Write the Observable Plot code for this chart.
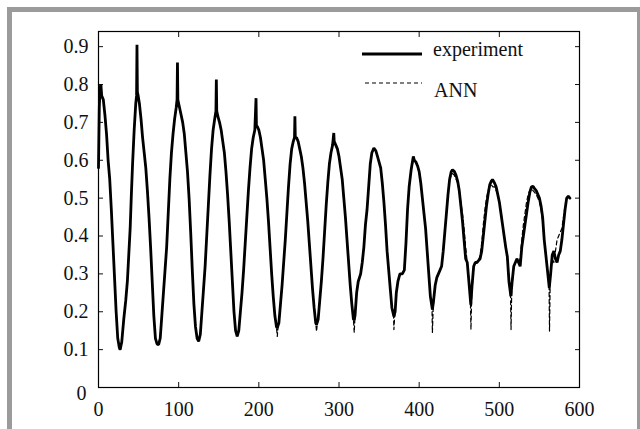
<!DOCTYPE html>
<html>
<head>
<meta charset="utf-8">
<script src="https://cdn.jsdelivr.net/npm/d3@7"></script>
<script src="https://cdn.jsdelivr.net/npm/@observablehq/plot@0.6"></script>
<style>
  html, body { margin: 0; padding: 0; background: #fff; }
  #wrap { position: relative; width: 640px; height: 429px; overflow: hidden; background: #fff; font-family: "Liberation Serif", "DejaVu Serif", serif; }
  #frame { position: absolute; left: 7px; top: 7px; width: 625px; height: 440px; border-left: 5px solid #9b9b9b; border-top: 5px solid #9b9b9b; border-right: 3px solid #9b9b9b; box-sizing: content-box; }
  #chart { position: absolute; left: 0; top: 0; }
  #chart svg, #chart svg text { font-family: "Liberation Serif", "DejaVu Serif", serif !important; font-size: 20px; }
  .leg { position: absolute; font-size: 20px; line-height: 20px; color: #111; white-space: nowrap; }
  #legsvg { position: absolute; left: 360px; top: 44px; }
</style>
</head>
<body>
<div id="wrap">
  <div id="frame"></div>
  <div id="chart"></div>
  <svg id="legsvg" width="66" height="50">
    <line x1="2" x2="62" y1="10" y2="10" stroke="#000" stroke-width="2.8"></line>
    <line x1="5" x2="62" y1="39" y2="39" stroke="#000" stroke-width="1.2" stroke-dasharray="4,3"></line>
  </svg>
  <div class="leg" id="legExp" style="left:433px; top:39px;"></div>
  <div class="leg" id="legAnn" style="left:434px; top:80px;"></div>
</div>
<script>
// ---- data ----
const seriesNames = ["experiment", "ANN"];
const xTicks = [0, 100, 200, 300, 400, 500, 600];
const yTicks = [0.1, 0.2, 0.3, 0.4, 0.5, 0.6, 0.7, 0.8, 0.9];
const yZeroLabel = ["0"];

const expX = [0,1,2,3,4,6,8,10,12,14,16,18,20,22,24,26,27,29,31.5,34,36,38,39.5,41,42.5,44.5,46.5,47.5,48,48.5,49.5,
  51,53,55,57,59,61,63,65,67,69,71,73,75,77,79,81,83,85,87,89,91,93,95,97,98,98.5,99,
  101,103,105,107,109,111,113,115,117,119,121,123,125,127,129,131,133,135,137,139,141,143,145,146.5,147,147.5,149,
  151,153,155,157,159,161,163,165,167,169,171,173,175,177,179,181,183,185,187,189,191,193,195,196.5,197,198,
  200,202,204,206,208,210,212,214,216,218,220,222,223,225,227,229,231,233,235,237,239,241,243,244.5,245,245.5,247,
  249,251,253,255,257,259,261,263,265,267,269,271,272,274,276,278,280,282,284,286,288,290,292,293.5,294,296,
  298,300,302,304,306,308,310,312,314,316,318,319,320,322,324,327,329,331,333,335,337,339,341,343.5,
  346,348,350,352,354,356,358,360,362,364,366,368.5,370,371.5,373.5,376,379,381.5,383.5,385.5,387.5,390,392.7,
  394,396,398,400,402,404,406,408,410,412,414,416.5,418,420,422,424,426,428,430,432,434,436,438,440,441.5,
  444,446,448,450,452,454,456,458,460,462,464.4,466,468,470,472,474,476,478,480,482,484,486,488,490,491.5,
  494,496,498,500,502,504,506,508,510,512,514.4,516,518,520,522,524,526,528,530,532,534,536,538,540,542,
  544,546,548,550,552,554,556,558,560,562.3,564,566,568,570,572,574,576,578,580,582,584,586,588];
const expY = [0.58,0.74,0.79,0.80,0.77,0.76,0.72,0.67,0.60,0.55,0.47,0.38,0.29,0.20,0.13,0.105,0.10,0.12,0.18,0.23,0.28,0.36,0.42,0.51,0.59,0.68,0.75,0.77,0.905,0.78,0.77,
  0.75,0.71,0.66,0.62,0.58,0.52,0.45,0.37,0.28,0.19,0.13,0.115,0.113,0.13,0.19,0.25,0.31,0.37,0.46,0.55,0.62,0.67,0.71,0.74,0.76,0.858,0.76,
  0.74,0.72,0.70,0.67,0.62,0.57,0.50,0.41,0.31,0.22,0.16,0.13,0.122,0.14,0.20,0.26,0.32,0.40,0.48,0.56,0.63,0.68,0.71,0.73,0.813,0.73,0.715,
  0.70,0.68,0.65,0.62,0.57,0.51,0.44,0.36,0.28,0.20,0.15,0.135,0.15,0.20,0.25,0.31,0.38,0.45,0.52,0.58,0.63,0.66,0.68,0.764,0.69,0.69,
  0.68,0.66,0.63,0.60,0.55,0.50,0.44,0.37,0.30,0.24,0.19,0.16,0.158,0.17,0.22,0.27,0.33,0.39,0.46,0.53,0.59,0.63,0.65,0.66,0.716,0.66,0.66,
  0.65,0.63,0.61,0.58,0.54,0.49,0.44,0.38,0.32,0.26,0.21,0.17,0.166,0.18,0.23,0.28,0.34,0.41,0.48,0.54,0.59,0.62,0.64,0.672,0.65,0.64,
  0.63,0.61,0.58,0.55,0.50,0.45,0.39,0.33,0.27,0.22,0.18,0.179,0.19,0.25,0.28,0.30,0.33,0.37,0.43,0.47,0.53,0.59,0.62,0.632,
  0.625,0.61,0.595,0.58,0.54,0.49,0.43,0.36,0.31,0.26,0.21,0.188,0.20,0.25,0.28,0.30,0.30,0.31,0.38,0.47,0.53,0.575,0.61,
  0.60,0.595,0.585,0.57,0.54,0.50,0.46,0.42,0.36,0.30,0.24,0.206,0.23,0.27,0.29,0.30,0.31,0.32,0.36,0.41,0.46,0.51,0.55,0.57,0.575,
  0.57,0.56,0.545,0.52,0.48,0.44,0.39,0.34,0.33,0.28,0.219,0.27,0.32,0.33,0.33,0.335,0.34,0.36,0.40,0.44,0.48,0.51,0.535,0.545,0.549,
  0.54,0.53,0.51,0.49,0.46,0.43,0.40,0.37,0.345,0.28,0.241,0.28,0.32,0.33,0.34,0.33,0.32,0.37,0.40,0.43,0.46,0.49,0.515,0.53,0.531,
  0.525,0.52,0.51,0.50,0.48,0.45,0.39,0.35,0.31,0.263,0.30,0.35,0.36,0.34,0.33,0.35,0.36,0.39,0.43,0.47,0.50,0.505,0.50];

const annX = [0,2,4,6,8,10,12,14,16,18,20,22,24,26,27,29,31.5,34,36,38,39.5,41,42.5,44.5,46.5,48,
  51,53,55,57,59,61,63,65,67,69,71,73,75,77,79,81,83,85,87,89,91,93,95,97,99,
  101,103,105,107,109,111,113,115,117,119,121,123,125,127,129,131,133,135,137,139,141,143,145,147,149,
  151,153,155,157,159,161,163,165,167,169,171,173,175,177,179,181,183,185,187,189,191,193,195,197,
  200,202,204,206,208,210,212,214,216,218,220,222,223,224,225,227,229,231,233,235,237,239,241,243,245,247,
  249,251,253,255,257,259,261,263,265,267,269,271,272,273,274,276,278,280,282,284,286,288,290,292,294,296,
  298,300,302,304,306,308,310,312,314,316,318,319,320,322,324,327,329,331,333,335,337,339,341,343.5,
  346,348,350,352,354,356,358,360,362,364,366,368,368.5,369.5,371.5,373.5,376,379,381.5,383.5,385.5,387.5,390,392.7,
  394,396,398,400,402,404,406,408,410,412,414,416,416.5,417.5,420,422,424,426,428,430,432,434,436,438,440,441.5,
  444,446,448,450,452,454,456,458,460,462,464,464.6,465.5,468,470,472,474,476,478,480,482,484,486,488,490,492,
  494,496,498,500,502,504,506,508,510,512,514,514.6,515.5,518,520,522,524,526,528,530,532,534,536,538,540,542,
  544,546,548,550,552,554,556,558,560,562,562.6,563.5,566,568,570,572,574,576,578,580,582,584,586,588];
const annY = [0.80,0.79,0.77,0.76,0.72,0.67,0.60,0.55,0.47,0.38,0.29,0.20,0.13,0.105,0.10,0.12,0.18,0.23,0.28,0.36,0.42,0.51,0.59,0.68,0.75,0.77,
  0.75,0.71,0.66,0.62,0.58,0.52,0.45,0.37,0.28,0.19,0.13,0.115,0.113,0.13,0.19,0.25,0.31,0.37,0.46,0.55,0.62,0.67,0.71,0.74,0.76,
  0.74,0.72,0.70,0.67,0.62,0.57,0.50,0.41,0.31,0.22,0.16,0.13,0.122,0.14,0.20,0.26,0.32,0.40,0.48,0.56,0.63,0.68,0.71,0.73,0.715,
  0.70,0.68,0.65,0.62,0.57,0.51,0.44,0.36,0.28,0.20,0.15,0.135,0.15,0.20,0.25,0.31,0.38,0.45,0.52,0.58,0.63,0.66,0.68,0.69,
  0.68,0.66,0.63,0.60,0.55,0.50,0.44,0.37,0.30,0.24,0.19,0.16,0.135,0.16,0.17,0.22,0.27,0.33,0.39,0.46,0.53,0.59,0.63,0.65,0.66,0.66,
  0.65,0.63,0.61,0.58,0.54,0.49,0.44,0.38,0.32,0.26,0.21,0.17,0.148,0.17,0.18,0.23,0.28,0.34,0.41,0.48,0.54,0.59,0.62,0.64,0.65,0.64,
  0.63,0.61,0.58,0.55,0.50,0.45,0.39,0.33,0.27,0.22,0.18,0.145,0.19,0.25,0.28,0.30,0.33,0.37,0.43,0.47,0.53,0.59,0.62,0.63,
  0.625,0.61,0.595,0.58,0.54,0.49,0.43,0.36,0.31,0.26,0.21,0.19,0.153,0.19,0.25,0.28,0.30,0.30,0.31,0.38,0.47,0.53,0.575,0.60,
  0.60,0.595,0.585,0.57,0.54,0.50,0.46,0.42,0.36,0.30,0.24,0.21,0.145,0.21,0.27,0.29,0.30,0.31,0.32,0.36,0.41,0.46,0.51,0.55,0.56,0.565,
  0.56,0.55,0.54,0.52,0.49,0.46,0.42,0.37,0.33,0.29,0.22,0.153,0.24,0.32,0.33,0.33,0.335,0.35,0.38,0.43,0.47,0.50,0.52,0.53,0.535,0.53,
  0.53,0.52,0.51,0.49,0.46,0.43,0.40,0.37,0.345,0.29,0.24,0.153,0.26,0.32,0.33,0.34,0.33,0.34,0.39,0.43,0.46,0.49,0.51,0.52,0.525,0.52,
  0.515,0.51,0.50,0.49,0.47,0.44,0.39,0.35,0.31,0.27,0.149,0.29,0.34,0.33,0.36,0.39,0.40,0.41,0.42,0.45,0.48,0.50,0.505,0.50];

// ---- tables built from the arrays ----
const expData = expX.map((x, i) => ({x, y: expY[i]}));
const annData = annX.map((x, i) => ({x, y: annY[i]}));

document.getElementById("legExp").textContent = seriesNames[0];
document.getElementById("legAnn").textContent = seriesNames[1];

const chart = Plot.plot({
  width: 640,
  height: 429,
  marginLeft: 98,
  marginRight: 61,
  marginTop: 31,
  marginBottom: 42,
  style: {fontFamily: "Liberation Serif", fontSize: "20px", background: "transparent", color: "#111"},
  x: {domain: [0, 600]},
  y: {domain: [0, 0.94]},
  marks: [
    Plot.axisX({anchor: "bottom", ticks: xTicks, tickSize: -5, tickPadding: 19, label: null, tickFormat: d => String(d)}),
    Plot.axisX({anchor: "top", ticks: xTicks.slice(1, -1), tickSize: -5, tickFormat: () => "", label: null}),
    Plot.axisY({anchor: "left", ticks: yTicks, tickSize: -5, tickPadding: 15, label: null, tickFormat: d => d.toFixed(1)}),
    Plot.axisY({anchor: "right", ticks: yTicks, tickSize: -5, tickFormat: () => "", label: null}),
    Plot.text(yZeroLabel, {x: () => 0, y: d => +d, text: d => d, textAnchor: "end", dx: -12, dy: 6, fill: "#111"}),
    Plot.line(annData, {x: "x", y: "y", stroke: "#000", strokeWidth: 1.2, strokeDasharray: "4,3"}),
    Plot.line(expData, {x: "x", y: "y", stroke: "#000", strokeWidth: 2.8, strokeLinejoin: "miter"}),
    Plot.frame({stroke: "#000", strokeWidth: 1.2})
  ]
});
document.getElementById("chart").appendChild(chart);
</script>
</body>
</html>
